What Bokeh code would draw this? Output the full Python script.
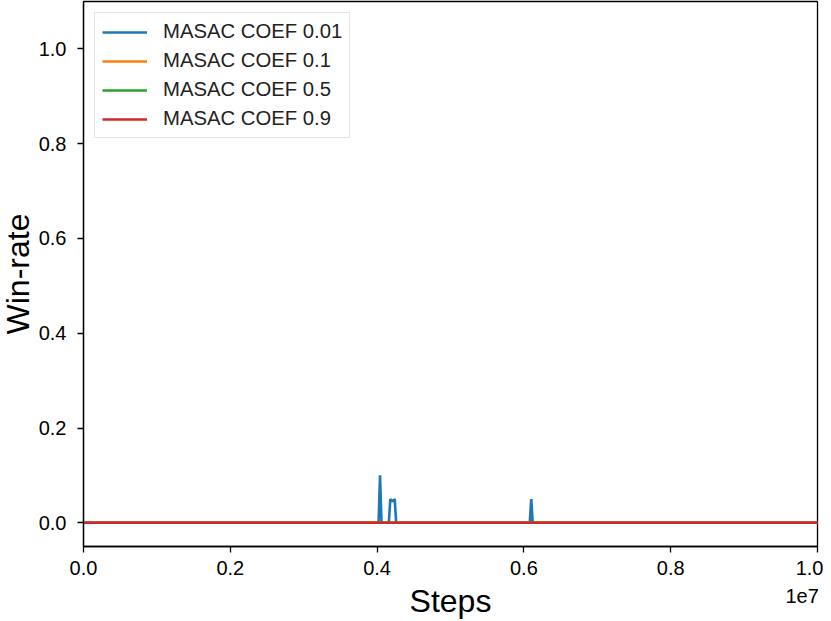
from bokeh.plotting import figure
from bokeh.models import Range1d, FixedTicker, Legend, LegendItem, LinearAxis
from bokeh.embed import file_html
from bokeh.resources import INLINE

# ---- data ----
series_names = ["MASAC COEF 0.01", "MASAC COEF 0.1", "MASAC COEF 0.5", "MASAC COEF 0.9"]
series_colors = ["#1f77b4", "#ff7f0e", "#2ca02c", "#d62728"]

steps_001 = [0, 4020000, 4040000, 4060000, 4160000, 4180000, 4210000, 4240000, 4260000,
             6080000, 6100000, 6120000, 10000000]
win_001 = [0.0, 0.0, 0.1, 0.0, 0.0, 0.05, 0.045, 0.05, 0.0, 0.0, 0.05, 0.0, 0.0]

steps_01 = [0, 10000000]
win_01 = [0.0, 0.0]
steps_05 = [0, 10000000]
win_05 = [0.0, 0.0]
steps_09 = [0, 10000000]
win_09 = [0.0, 0.0]

x_ticks = [0, 2000000, 4000000, 6000000, 8000000, 10000000]
x_tick_labels = ["0.0", "0.2", "0.4", "0.6", "0.8", "1.0"]
y_ticks = [0.0, 0.2, 0.4, 0.6, 0.8, 1.0]
y_tick_labels = ["0.0", "0.2", "0.4", "0.6", "0.8", "1.0"]
x_offset_text = "1e7"

FONT = "Liberation Sans"
OFFSET_POS = 9790000  # horizontal position of the axis offset text

p = figure(width=827, height=622, output_backend="svg", toolbar_location=None,
           x_range=Range1d(0, 10000000), y_range=Range1d(-0.05, 1.1),
           min_border_left=87, min_border_right=6, min_border_top=1, min_border_bottom=76)
p.margin = (0, 0, -2, -4)

p.xgrid.visible = False
p.ygrid.visible = False
p.outline_line_color = "black"
p.outline_line_width = 1.3
p.background_fill_color = "white"
p.border_fill_color = "white"

all_series = [(steps_001, win_001), (steps_01, win_01), (steps_05, win_05), (steps_09, win_09)]
renderers = []
for (xs, ys), name, color in zip(all_series, series_names, series_colors):
    r = p.line(xs, ys, line_color=color, line_width=2.6)
    renderers.append((name, r))

legend = Legend(items=[LegendItem(label=n, renderers=[r]) for n, r in renderers])
legend.location = "top_left"
legend.margin = 11
legend.label_text_font = FONT
legend.label_text_font_size = "20.3px"
legend.label_text_color = "#222222"
legend.glyph_width = 45
legend.glyph_height = 20
legend.label_height = 20
legend.label_standoff = 16
legend.spacing = 6
legend.padding = 7
legend.border_line_color = "#cccccc"
legend.border_line_width = 1
legend.background_fill_alpha = 0.8
p.add_layout(legend, "center")

for ax, ticks, labels in ((p.xaxis[0], x_ticks, x_tick_labels), (p.yaxis[0], y_ticks, y_tick_labels)):
    ax.ticker = FixedTicker(ticks=ticks)
    ax.major_label_overrides = {t: l for t, l in zip(ticks, labels)}
    ax.minor_tick_line_color = None
    ax.major_tick_in = 0
    ax.major_tick_out = 6
    ax.major_tick_line_color = "black"
    ax.major_tick_line_width = 1.3
    ax.axis_line_color = "black"
    ax.axis_line_width = 1.3
    ax.major_label_text_font = FONT
    ax.major_label_text_font_size = "20px"
    ax.major_label_text_color = "black"
    ax.axis_label_text_font = FONT
    ax.axis_label_text_font_size = "32px"
    ax.axis_label_text_font_style = "normal"
    ax.axis_label_text_color = "black"

p.xaxis[0].major_label_standoff = 8
p.yaxis[0].major_label_standoff = 11
p.yaxis[0].axis_label = "Win-rate"
p.yaxis[0].axis_label_standoff = 0

# second axis below: carries the offset text "1e7" and the axis title "Steps"
ax2 = LinearAxis(ticker=FixedTicker(ticks=[OFFSET_POS]),
                 major_label_overrides={OFFSET_POS: x_offset_text})
ax2.axis_line_color = None
ax2.major_tick_line_color = None
ax2.minor_tick_line_color = None
ax2.major_tick_in = 0
ax2.major_tick_out = 0
ax2.major_label_standoff = 11
ax2.major_label_text_font = FONT
ax2.major_label_text_font_size = "20px"
ax2.major_label_text_color = "black"
ax2.axis_label = "Steps"
ax2.axis_label_standoff = -23
ax2.axis_label_text_font = FONT
ax2.axis_label_text_font_size = "32px"
ax2.axis_label_text_font_style = "normal"
ax2.axis_label_text_color = "black"
p.add_layout(ax2, "below")

open("out.html", "w").write(file_html(p, INLINE))
